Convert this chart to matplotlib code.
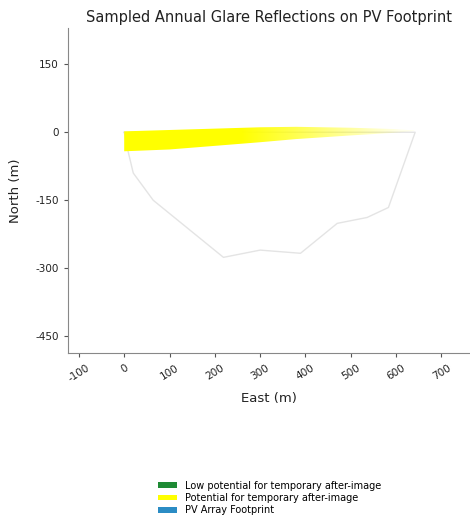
"""
Sampled annual glare reflections on the PV footprint (recreated chart).
"""

import numpy as np
import matplotlib
matplotlib.use("Agg")
import matplotlib.pyplot as plt
from matplotlib.patches import Patch, Polygon

# ── Data ──────────────────────────────────────────────────────────────────────
# PV array footprint outline (east, north) in metres
footprint_east  = [0, 9, 20, 64, 219, 300, 389, 470, 536, 583, 642, 0]
footprint_north = [0, -44, -90, -150, -276, -260, -267, -201, -188, -166, 0, 0]

# glare band on the footprint: upper and lower edges
band_east  = [0, 100, 200, 300, 380, 500, 600, 640]
band_top   = [2, 5, 8, 11, 12, 10, 7, 4]
band_bot   = [-42, -38, -30, -22, -15, -7, -1, 3]

x_ticks = [-100, 0, 100, 200, 300, 400, 500, 600, 700]
y_ticks = [150, 0, -150, -300, -450]

legend_labels = ["Low potential for temporary after-image",
                 "Potential for temporary after-image",
                 "PV Array Footprint"]
legend_colors = ["#1e8a34", "#ffff00", "#2b8cc4"]

# ── Figure ────────────────────────────────────────────────────────────────────
fig = plt.figure(figsize=(4.7, 5.24), dpi=100, facecolor="white")
ax = fig.add_axes([68 / 470, 171 / 524, 402 / 470, 325 / 524])

# footprint outline
ax.plot(footprint_east, footprint_north, color="#e4e4e4", lw=1.0, zorder=2)

# glare band, yellow fading out towards the east
band_x = band_east + band_east[::-1]
band_y = band_top + band_bot[::-1]
band = Polygon(np.column_stack([band_x, band_y]), closed=True,
               facecolor="none", edgecolor="none")
ax.add_patch(band)

xs = np.linspace(0, 640, 400)
alpha = np.clip(1.0 - (xs - 260) / 380, 0.08, 1.0)
img = np.zeros((2, len(xs), 4))
img[..., 0] = 1.0
img[..., 1] = 1.0
img[..., 3] = alpha
im = ax.imshow(img, extent=(0, 640, -45, 15), origin="lower",
               aspect="auto", interpolation="bilinear", zorder=3)
im.set_clip_path(band)

ax.set_xlim(-124, 763)
ax.set_ylim(-487, 230)

ax.set_title("Sampled Annual Glare Reflections on PV Footprint",
             fontsize=10.5, pad=4, color="#222222")
ax.set_xlabel("East (m)", fontsize=9.5, color="#222222", labelpad=6)
ax.set_ylabel("North (m)", fontsize=9.5, color="#222222", labelpad=10)

ax.set_xticks(x_ticks)
ax.set_xticklabels([str(v) for v in x_ticks], rotation=32, fontsize=7.5)
ax.set_yticks(y_ticks)
ax.set_yticklabels([str(v) for v in y_ticks], fontsize=7.5)
ax.tick_params(length=3, width=0.8, color="#555555", labelcolor="#222222")
ax.tick_params(axis="x", pad=4)

for side in ("top", "right"):
    ax.spines[side].set_visible(False)
for side in ("left", "bottom"):
    ax.spines[side].set_color("#888888")
    ax.spines[side].set_linewidth(0.8)

handles = [Patch(facecolor=c, edgecolor="none", label=l)
           for c, l in zip(legend_colors, legend_labels)]
fig.legend(handles=handles, loc="center", bbox_to_anchor=(270 / 470, 1 - 498 / 524),
           fontsize=7, frameon=False, handlelength=1.9, handleheight=0.45,
           labelspacing=0.25, handletextpad=0.9)

plt.savefig("out.png", dpi=100, facecolor=fig.get_facecolor())
plt.close(fig)
